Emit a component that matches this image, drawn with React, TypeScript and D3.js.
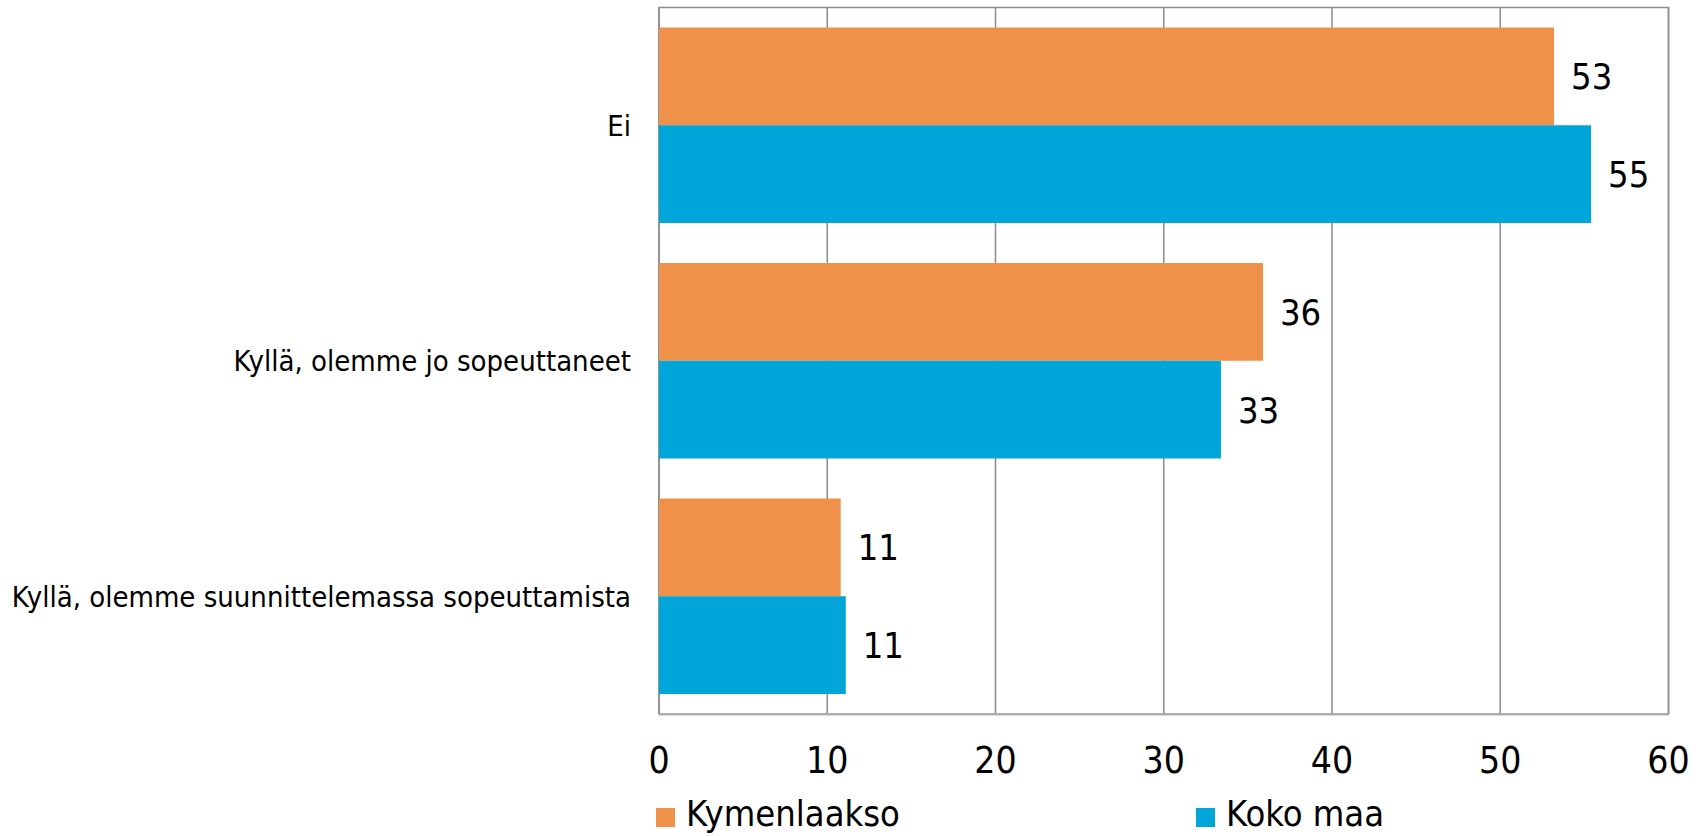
import React from "react";
import * as d3 from "d3";

const categories = [
  "Ei",
  "Kyllä, olemme jo sopeuttaneet",
  "Kyllä, olemme suunnittelemassa sopeuttamista",
];
const seriesNames = ["Kymenlaakso", "Koko maa"];
const kymenlaakso = [53.2, 35.9, 10.8];
const kokoMaa = [55.4, 33.4, 11.1];
const kymenlaaksoLabels = ["53", "36", "11"];
const kokoMaaLabels = ["55", "33", "11"];
const xTicks = [0, 10, 20, 30, 40, 50, 60];

const colors = ["#F0914A", "#00A5DA"];
const FONT = "'DejaVu Sans Condensed', 'DejaVu Sans', sans-serif";

export default function App() {
  const width = 1702;
  const height = 836;
  const plot = { left: 659, right: 1668.5, top: 7.5, bottom: 714 };

  const x = d3.scaleLinear().domain([0, 60]).range([plot.left, plot.right]);
  const y = d3
    .scaleBand<string>()
    .domain(categories)
    .range([plot.top, plot.bottom])
    .paddingInner(0.17)
    .paddingOuter(0.085);
  const ySub = d3
    .scaleBand<string>()
    .domain(seriesNames)
    .range([0, y.bandwidth()]);

  const series = [
    { name: seriesNames[0], values: kymenlaakso, labels: kymenlaaksoLabels },
    { name: seriesNames[1], values: kokoMaa, labels: kokoMaaLabels },
  ];

  return (
    <svg
      width={width}
      height={height}
      style={{ position: "absolute", left: 0, top: 0, display: "block", background: "#fff" }}
      fontFamily={FONT}
    >
      {/* gridlines */}
      {xTicks.map((t) => (
        <line
          key={"g" + t}
          x1={x(t)}
          x2={x(t)}
          y1={plot.top}
          y2={plot.bottom}
          stroke="#8c8c8c"
          strokeWidth={1.5}
        />
      ))}
      <rect
        x={plot.left}
        y={plot.top}
        width={plot.right - plot.left}
        height={plot.bottom - plot.top}
        fill="none"
        stroke="#8c8c8c"
        strokeWidth={1.5}
      />
      <line
        x1={plot.left}
        x2={plot.right}
        y1={plot.bottom + 0.5}
        y2={plot.bottom + 0.5}
        stroke="#b0b0b0"
        strokeWidth={2}
      />

      {/* bars */}
      {series.map((s, si) =>
        categories.map((c, ci) => {
          const y0 = (y(c) as number) + (ySub(s.name) as number);
          const bh = ySub.bandwidth();
          return (
            <g key={s.name + c}>
              <rect
                x={x(0)}
                y={y0}
                width={x(s.values[ci]) - x(0)}
                height={bh}
                fill={colors[si]}
              />
              <text
                x={x(s.values[ci]) + 17}
                y={y0 + bh / 2}
                dy="0.36em"
                fontSize={36}
                fill="#000"
              >
                {s.labels[ci]}
              </text>
            </g>
          );
        })
      )}

      {/* category labels */}
      {categories.map((c) => (
        <text
          key={"c" + c}
          x={plot.left - 28}
          y={(y(c) as number) + y.bandwidth() / 2}
          dy="0.36em"
          textAnchor="end"
          fontSize={29}
          fill="#000"
        >
          {c}
        </text>
      ))}

      {/* x tick labels */}
      {xTicks.map((t) => (
        <text
          key={"t" + t}
          x={x(t)}
          y={773}
          textAnchor="middle"
          fontSize={37}
          fill="#000"
        >
          {t}
        </text>
      ))}

      {/* legend */}
      {seriesNames.map((n, i) => {
        const lx = i === 0 ? 656 : 1196;
        return (
          <g key={"l" + n}>
            <rect x={lx} y={808} width={19} height={19} fill={colors[i]} />
            <text x={lx + 30} y={826} fontSize={36} fill="#000">
              {n}
            </text>
          </g>
        );
      })}
    </svg>
  );
}
